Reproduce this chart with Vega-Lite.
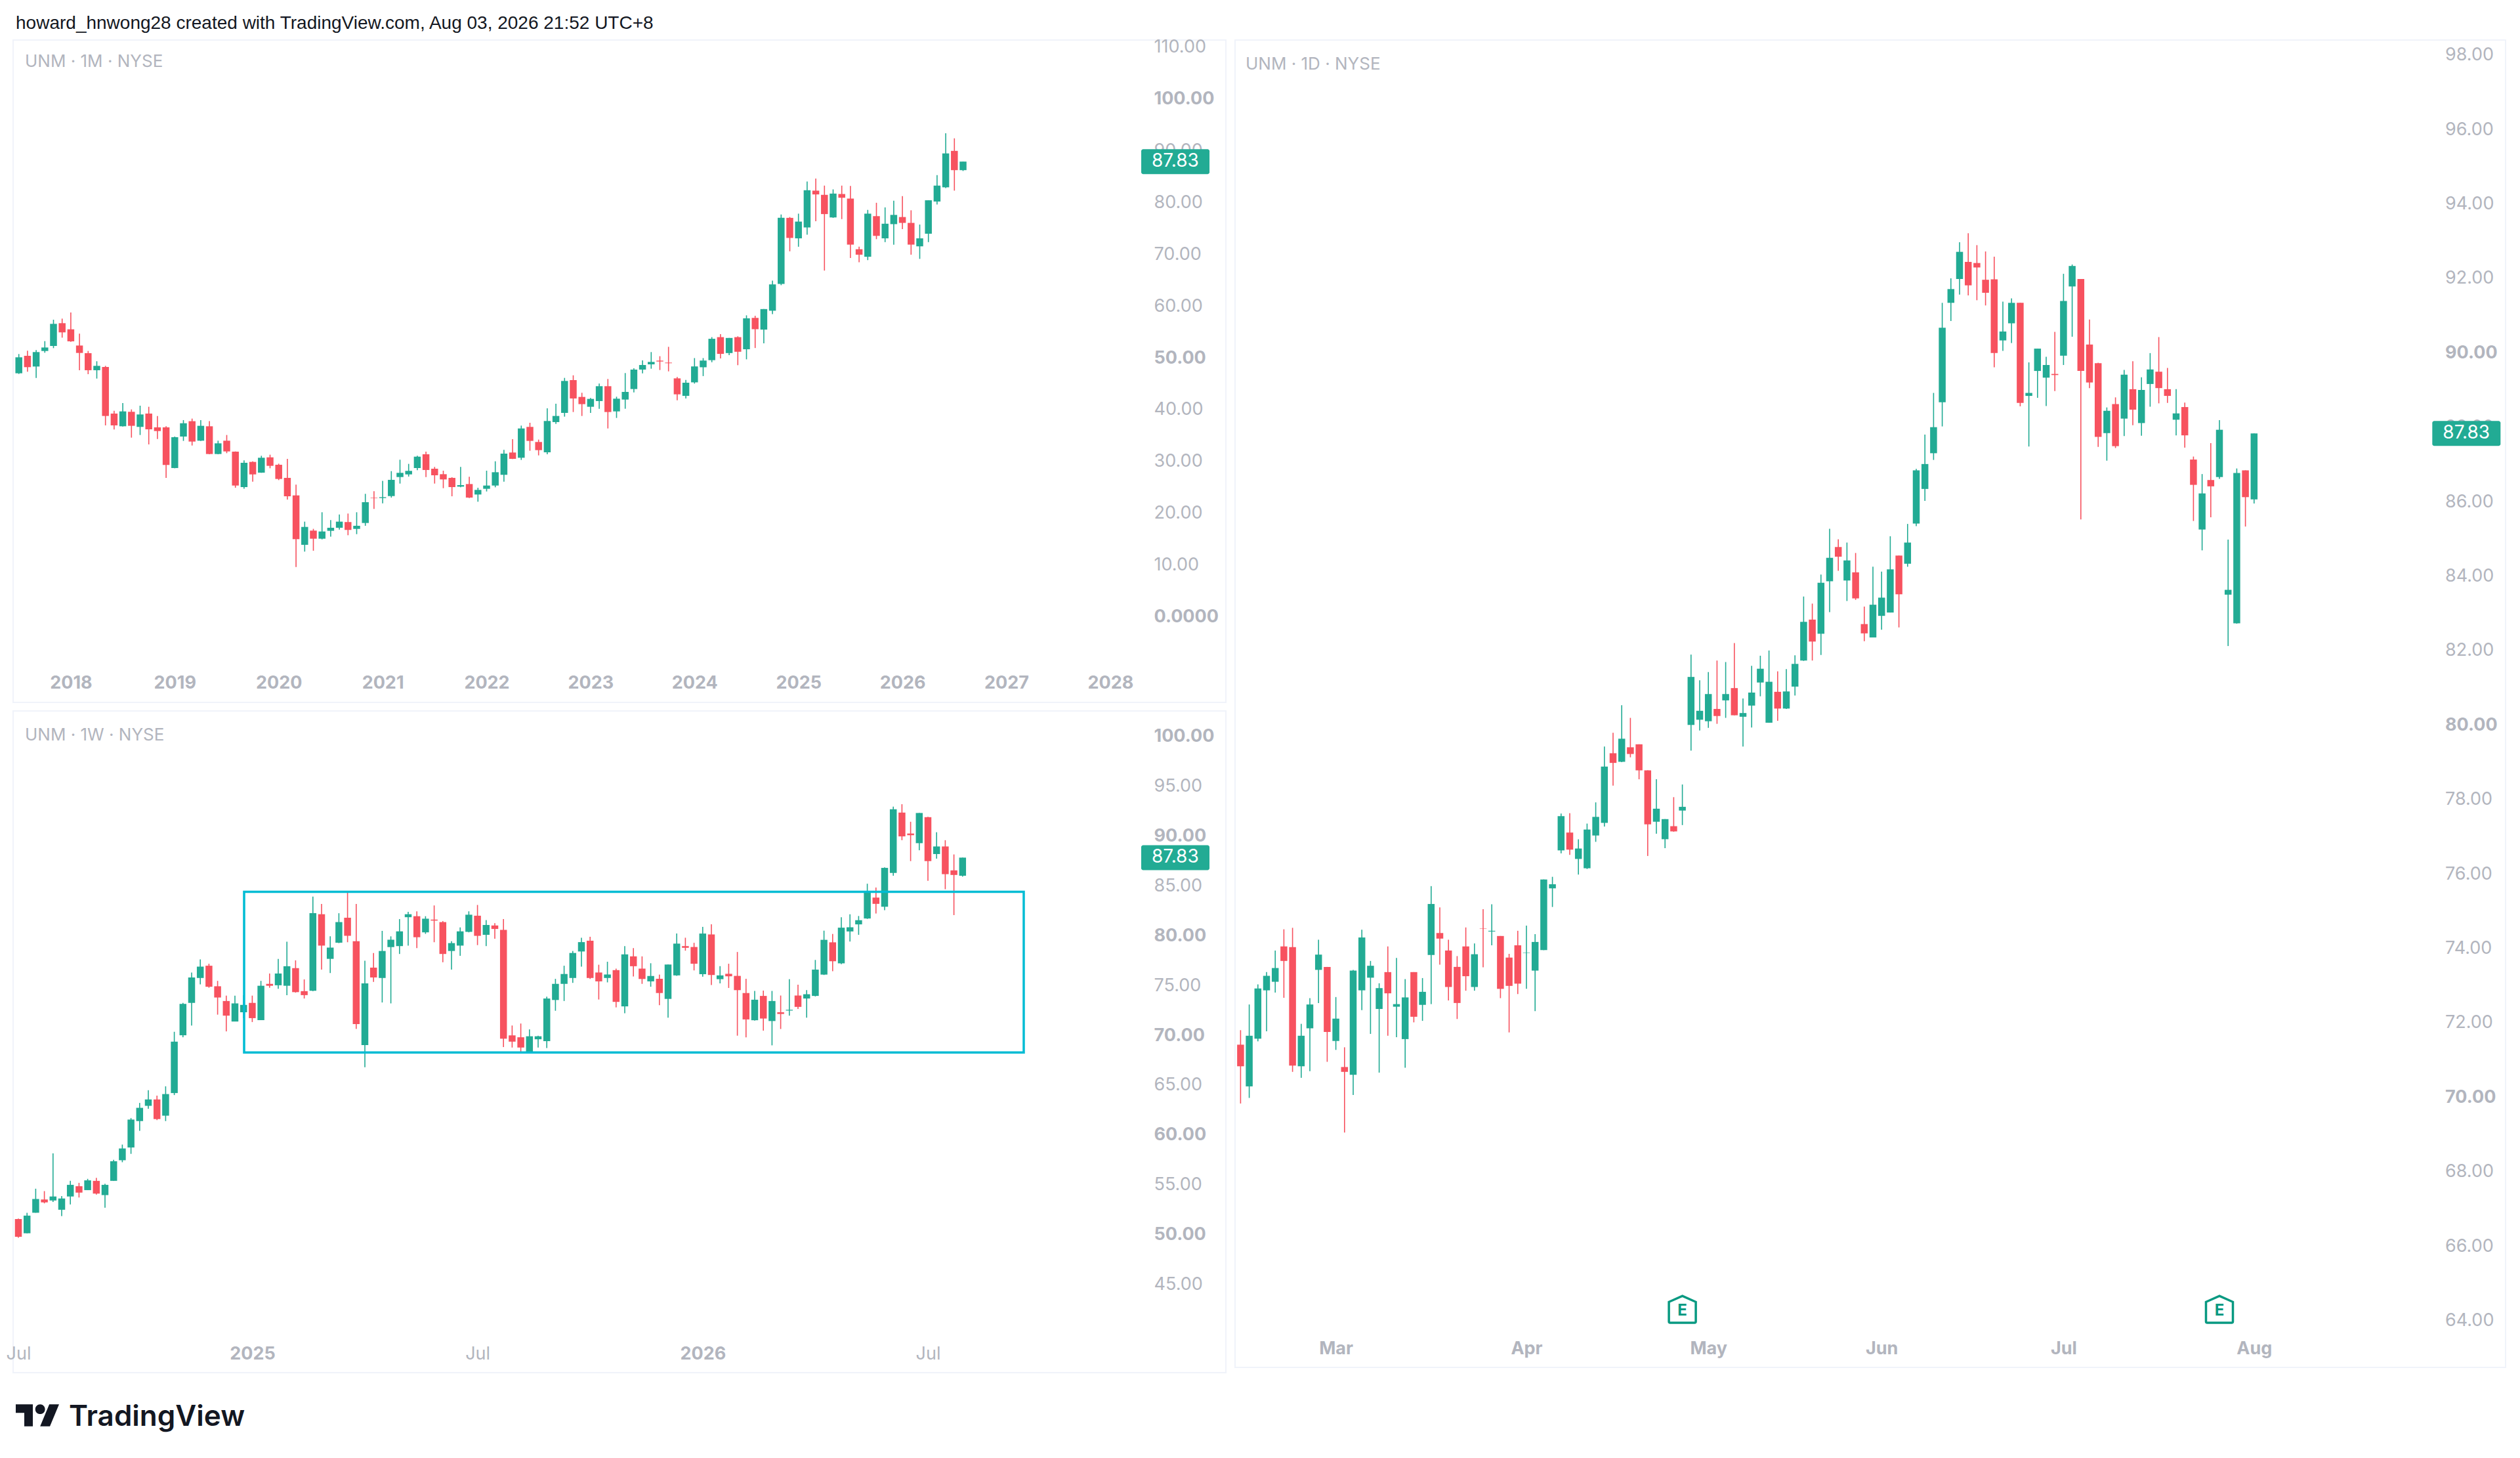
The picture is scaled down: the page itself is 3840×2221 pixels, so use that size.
{
  "$schema": "https://vega.github.io/schema/vega-lite/v6.json",
  "description": "UNM monthly, weekly and daily candlestick panels",
  "background": "#ffffff",
  "padding": {"left": 8, "top": 22, "right": 0, "bottom": 0},
  "title": {"text": "howard_hnwong28 created with TradingView.com, Aug 03, 2026 21:52 UTC+8", "anchor": "start", "frame": "bounds", "dx": 16, "font": "Liberation Sans", "fontSize": 28, "fontWeight": "normal", "color": "#131722", "offset": 6},
  "config": {"view": {"stroke": "#f0f3fa", "strokeWidth": 2}, "font": "Inter"},
  "datasets": {
    "monthly": [
      {"i":0,"o":47.01,"h":50.72,"l":46.88,"c":50.09},{"i":1,"o":50.38,"h":51.35,"l":47.30,"c":48.19},{"i":2,"o":48.31,"h":51.48,"l":46.12,"c":51.10},{"i":3,"o":51.31,"h":53.21,"l":50.97,"c":51.98},{"i":4,"o":52.28,"h":57.34,"l":51.86,"c":56.54},{"i":5,"o":56.67,"h":57.55,"l":53.88,"c":54.90},{"i":6,"o":55.49,"h":58.74,"l":53.08,"c":53.17},{"i":7,"o":52.36,"h":54.64,"l":47.60,"c":50.93},{"i":8,"o":50.89,"h":51.31,"l":46.84,"c":47.60},{"i":9,"o":47.60,"h":49.33,"l":45.99,"c":48.44},
      {"i":10,"o":48.23,"h":48.44,"l":36.96,"c":38.78},{"i":11,"o":39.24,"h":39.79,"l":36.16,"c":36.96},{"i":12,"o":36.79,"h":41.27,"l":36.75,"c":39.66},{"i":13,"o":39.58,"h":40.04,"l":34.60,"c":36.88},{"i":14,"o":36.67,"h":40.76,"l":35.11,"c":39.07},{"i":15,"o":39.24,"h":40.55,"l":33.29,"c":36.20},{"i":16,"o":36.58,"h":38.78,"l":34.35,"c":35.87},{"i":17,"o":36.58,"h":36.79,"l":26.84,"c":29.33},{"i":18,"o":28.74,"h":34.81,"l":28.69,"c":34.68},{"i":19,"o":34.81,"h":37.98,"l":33.97,"c":37.38},
      {"i":20,"o":37.77,"h":38.27,"l":33.08,"c":33.84},{"i":21,"o":34.01,"h":37.98,"l":33.97,"c":36.88},{"i":22,"o":36.79,"h":37.77,"l":31.39,"c":31.44},{"i":23,"o":31.44,"h":34.01,"l":31.39,"c":33.50},{"i":24,"o":34.01,"h":35.11,"l":31.60,"c":31.94},{"i":25,"o":31.90,"h":31.94,"l":24.94,"c":25.36},{"i":26,"o":25.06,"h":30.21,"l":24.73,"c":29.75},{"i":27,"o":29.92,"h":30.04,"l":26.12,"c":27.51},{"i":28,"o":27.85,"h":31.10,"l":27.81,"c":30.72},{"i":29,"o":30.80,"h":31.31,"l":28.69,"c":29.16},
      {"i":30,"o":29.37,"h":29.58,"l":26.41,"c":26.63},{"i":31,"o":26.84,"h":30.51,"l":22.66,"c":23.29},{"i":32,"o":23.46,"h":25.53,"l":9.66,"c":15.02},{"i":33,"o":13.93,"h":18.40,"l":12.62,"c":17.38},{"i":34,"o":16.67,"h":17.01,"l":12.79,"c":15.11},{"i":35,"o":15.11,"h":20.21,"l":14.98,"c":16.50},{"i":36,"o":16.63,"h":18.69,"l":15.49,"c":17.22},{"i":37,"o":17.22,"h":19.79,"l":16.88,"c":18.40},{"i":38,"o":18.31,"h":19.96,"l":15.78,"c":16.79},{"i":39,"o":17.00,"h":20.21,"l":15.99,"c":17.60},
      {"i":40,"o":18.14,"h":23.76,"l":17.60,"c":22.15},{"i":41,"o":23.04,"h":24.26,"l":20.84,"c":22.95},{"i":42,"o":22.95,"h":26.25,"l":21.94,"c":23.12},{"i":43,"o":23.33,"h":28.14,"l":23.04,"c":26.46},{"i":44,"o":27.00,"h":30.34,"l":25.74,"c":27.81},{"i":45,"o":27.51,"h":29.54,"l":27.09,"c":28.19},{"i":46,"o":28.73,"h":31.10,"l":28.31,"c":30.93},{"i":47,"o":31.39,"h":31.90,"l":27.00,"c":28.36},{"i":48,"o":28.61,"h":28.95,"l":25.74,"c":27.34},{"i":49,"o":27.55,"h":28.23,"l":24.85,"c":26.54},
      {"i":50,"o":26.84,"h":26.96,"l":23.29,"c":25.06},{"i":51,"o":25.15,"h":28.95,"l":25.02,"c":25.44},{"i":52,"o":25.65,"h":27.05,"l":22.95,"c":23.04},{"i":53,"o":23.63,"h":24.94,"l":22.24,"c":24.52},{"i":54,"o":24.73,"h":28.23,"l":24.22,"c":25.36},{"i":55,"o":25.36,"h":30.04,"l":25.02,"c":27.93},{"i":56,"o":27.43,"h":32.24,"l":26.12,"c":31.52},{"i":57,"o":31.73,"h":34.30,"l":30.46,"c":30.51},{"i":58,"o":30.72,"h":36.92,"l":30.30,"c":36.37},{"i":59,"o":36.67,"h":37.47,"l":32.07,"c":33.97},
      {"i":60,"o":33.76,"h":34.22,"l":31.18,"c":32.19},{"i":61,"o":31.77,"h":40.25,"l":31.39,"c":37.81},{"i":62,"o":37.60,"h":41.14,"l":37.26,"c":38.78},{"i":63,"o":39.37,"h":46.12,"l":38.65,"c":45.53},{"i":64,"o":45.70,"h":46.62,"l":39.54,"c":42.15},{"i":65,"o":42.45,"h":43.25,"l":38.78,"c":41.06},{"i":66,"o":40.55,"h":42.24,"l":39.37,"c":42.07},{"i":67,"o":41.65,"h":45.02,"l":40.17,"c":44.52},{"i":68,"o":44.52,"h":45.91,"l":36.37,"c":39.54},{"i":69,"o":39.66,"h":42.49,"l":38.40,"c":42.11},
      {"i":70,"o":41.94,"h":47.05,"l":40.17,"c":43.42},{"i":71,"o":43.97,"h":47.98,"l":43.33,"c":47.72},{"i":72,"o":47.72,"h":49.49,"l":47.00,"c":48.61},{"i":73,"o":48.73,"h":51.10,"l":47.89,"c":49.20},{"i":74,"o":49.45,"h":50.30,"l":47.64,"c":49.28},{"i":75,"o":49.07,"h":52.11,"l":47.38,"c":48.95},{"i":76,"o":46.03,"h":46.29,"l":41.81,"c":42.95},{"i":77,"o":42.66,"h":45.74,"l":42.15,"c":45.19},{"i":78,"o":45.26,"h":49.94,"l":45.02,"c":48.33},{"i":79,"o":48.17,"h":49.94,"l":46.47,"c":49.46},
      {"i":80,"o":49.54,"h":53.98,"l":49.14,"c":53.66},{"i":81,"o":53.98,"h":54.55,"l":49.86,"c":50.75},{"i":82,"o":50.91,"h":53.82,"l":50.51,"c":53.82},{"i":83,"o":53.98,"h":54.14,"l":48.57,"c":51.16},{"i":84,"o":51.64,"h":58.18,"l":49.70,"c":57.61},{"i":85,"o":57.69,"h":58.10,"l":51.88,"c":55.51},{"i":86,"o":55.43,"h":59.39,"l":52.77,"c":59.39},{"i":87,"o":59.07,"h":64.88,"l":58.42,"c":64.15},{"i":88,"o":64.23,"h":77.63,"l":64.00,"c":76.98},{"i":89,"o":76.98,"h":77.14,"l":70.53,"c":73.11},
      {"i":90,"o":73.03,"h":77.79,"l":71.41,"c":76.26},{"i":91,"o":75.13,"h":84.00,"l":73.75,"c":82.31},{"i":92,"o":82.23,"h":84.57,"l":76.34,"c":81.50},{"i":93,"o":81.42,"h":83.20,"l":66.81,"c":77.71},{"i":94,"o":77.06,"h":82.47,"l":76.98,"c":81.66},{"i":95,"o":81.58,"h":83.20,"l":76.74,"c":80.86},{"i":96,"o":80.70,"h":83.12,"l":69.23,"c":71.82},{"i":97,"o":70.93,"h":71.41,"l":68.43,"c":69.88},{"i":98,"o":69.48,"h":78.52,"l":68.83,"c":77.79},{"i":99,"o":77.31,"h":79.89,"l":72.87,"c":73.51},
      {"i":100,"o":73.03,"h":79.00,"l":72.30,"c":75.85},{"i":101,"o":75.77,"h":80.29,"l":71.82,"c":77.55},{"i":102,"o":77.14,"h":81.18,"l":74.80,"c":76.01},{"i":103,"o":76.01,"h":78.44,"l":69.88,"c":71.82},{"i":104,"o":71.49,"h":75.69,"l":69.07,"c":73.03},{"i":105,"o":73.92,"h":80.37,"l":72.30,"c":80.37},{"i":106,"o":80.13,"h":85.22,"l":79.57,"c":83.20},{"i":107,"o":82.87,"h":93.29,"l":82.71,"c":89.41},{"i":108,"o":89.90,"h":92.32,"l":82.23,"c":86.18},{"i":109,"o":86.18,"h":87.83,"l":86.02,"c":87.83}
    ],
    "weekly": [
      {"i":0,"o":51.55,"h":51.60,"l":49.68,"c":49.78},{"i":1,"o":50.13,"h":52.19,"l":50.13,"c":51.90},{"i":2,"o":52.19,"h":54.60,"l":52.19,"c":53.57},{"i":3,"o":53.52,"h":54.36,"l":53.13,"c":53.23},{"i":4,"o":53.42,"h":58.15,"l":53.27,"c":53.82},{"i":5,"o":52.49,"h":53.87,"l":51.85,"c":53.62},{"i":6,"o":53.82,"h":55.39,"l":53.03,"c":54.99},{"i":7,"o":54.85,"h":55.19,"l":53.72,"c":54.21},{"i":8,"o":54.46,"h":55.59,"l":54.46,"c":55.44},{"i":9,"o":55.39,"h":55.69,"l":54.01,"c":54.11},
      {"i":10,"o":53.96,"h":55.09,"l":52.69,"c":54.99},{"i":11,"o":55.39,"h":57.51,"l":55.39,"c":57.36},{"i":12,"o":57.46,"h":59.03,"l":57.26,"c":58.64},{"i":13,"o":58.74,"h":61.69,"l":58.10,"c":61.54},{"i":14,"o":61.39,"h":63.21,"l":60.41,"c":62.72},{"i":15,"o":62.92,"h":64.49,"l":62.62,"c":63.56},{"i":16,"o":63.56,"h":63.95,"l":61.49,"c":61.59},{"i":17,"o":61.93,"h":64.88,"l":61.39,"c":64.10},{"i":18,"o":64.20,"h":70.35,"l":64.00,"c":69.36},{"i":19,"o":70.00,"h":73.25,"l":69.80,"c":73.15},
      {"i":20,"o":73.25,"h":76.30,"l":70.98,"c":75.80},{"i":21,"o":75.75,"h":77.62,"l":75.11,"c":76.89},{"i":22,"o":76.98,"h":77.18,"l":74.77,"c":74.87},{"i":23,"o":74.92,"h":75.46,"l":72.07,"c":73.79},{"i":24,"o":73.44,"h":73.98,"l":70.39,"c":71.97},{"i":25,"o":71.38,"h":73.98,"l":71.38,"c":73.20},{"i":26,"o":72.31,"h":74.03,"l":71.72,"c":73.05},{"i":27,"o":73.25,"h":73.98,"l":71.33,"c":71.72},{"i":28,"o":71.52,"h":75.46,"l":71.52,"c":74.97},{"i":29,"o":75.16,"h":76.20,"l":74.77,"c":74.97},
      {"i":30,"o":75.02,"h":77.67,"l":74.67,"c":76.20},{"i":31,"o":74.97,"h":79.39,"l":74.03,"c":76.93},{"i":32,"o":76.74,"h":77.52,"l":74.28,"c":74.33},{"i":33,"o":74.43,"h":75.61,"l":73.69,"c":74.03},{"i":34,"o":74.47,"h":83.92,"l":74.43,"c":82.25},{"i":35,"o":82.15,"h":83.18,"l":76.59,"c":79.00},{"i":36,"o":77.67,"h":79.93,"l":76.25,"c":78.80},{"i":37,"o":79.29,"h":82.25,"l":79.25,"c":81.36},{"i":38,"o":81.80,"h":84.41,"l":79.34,"c":79.98},{"i":39,"o":79.44,"h":83.18,"l":70.64,"c":71.13},
      {"i":40,"o":69.01,"h":77.48,"l":66.80,"c":75.21},{"i":41,"o":76.79,"h":78.26,"l":75.36,"c":75.80},{"i":42,"o":75.75,"h":80.48,"l":73.29,"c":78.46},{"i":43,"o":78.85,"h":79.93,"l":73.20,"c":79.59},{"i":44,"o":78.95,"h":81.66,"l":78.16,"c":80.43},{"i":45,"o":81.85,"h":82.39,"l":79.00,"c":82.15},{"i":46,"o":81.95,"h":82.44,"l":78.75,"c":79.84},{"i":47,"o":80.33,"h":81.95,"l":80.18,"c":81.70},{"i":48,"o":81.61,"h":83.03,"l":79.34,"c":81.51},{"i":49,"o":81.36,"h":81.46,"l":77.33,"c":78.16},
      {"i":50,"o":78.46,"h":79.44,"l":76.59,"c":79.25},{"i":51,"o":79.00,"h":80.82,"l":77.97,"c":80.43},{"i":52,"o":80.38,"h":82.44,"l":80.33,"c":82.10},{"i":53,"o":82.00,"h":83.08,"l":79.05,"c":79.98},{"i":54,"o":80.08,"h":81.56,"l":78.95,"c":81.07},{"i":55,"o":81.02,"h":81.26,"l":79.69,"c":80.67},{"i":56,"o":80.57,"h":81.66,"l":68.82,"c":69.65},{"i":57,"o":69.99,"h":70.98,"l":68.77,"c":69.36},{"i":58,"o":69.80,"h":71.18,"l":68.28,"c":68.77},{"i":59,"o":68.28,"h":70.59,"l":68.23,"c":69.90},
      {"i":60,"o":69.60,"h":69.95,"l":68.77,"c":69.90},{"i":61,"o":69.41,"h":73.88,"l":68.72,"c":73.69},{"i":62,"o":73.54,"h":75.66,"l":72.46,"c":75.16},{"i":63,"o":75.16,"h":76.98,"l":73.44,"c":76.15},{"i":64,"o":75.75,"h":78.46,"l":75.26,"c":78.26},{"i":65,"o":78.41,"h":79.79,"l":76.89,"c":79.35},{"i":66,"o":79.49,"h":79.89,"l":75.65,"c":75.75},{"i":67,"o":76.30,"h":77.08,"l":73.59,"c":75.41},{"i":68,"o":75.75,"h":77.38,"l":75.31,"c":76.10},{"i":69,"o":76.54,"h":76.69,"l":72.80,"c":73.35},
      {"i":70,"o":72.90,"h":78.95,"l":72.21,"c":78.12},{"i":71,"o":77.92,"h":78.75,"l":75.90,"c":76.93},{"i":72,"o":76.69,"h":77.92,"l":75.16,"c":75.65},{"i":73,"o":75.41,"h":77.23,"l":74.87,"c":75.95},{"i":74,"o":75.67,"h":76.09,"l":73.02,"c":74.24},{"i":75,"o":73.65,"h":77.10,"l":71.76,"c":77.10},{"i":76,"o":76.01,"h":80.21,"l":75.97,"c":79.20},{"i":77,"o":78.95,"h":79.79,"l":78.49,"c":78.78},{"i":78,"o":78.86,"h":79.28,"l":76.51,"c":77.18},{"i":79,"o":76.13,"h":80.88,"l":75.88,"c":80.21},
      {"i":80,"o":80.12,"h":81.13,"l":75.04,"c":76.05},{"i":81,"o":75.63,"h":76.93,"l":75.21,"c":76.01},{"i":82,"o":76.17,"h":77.18,"l":74.75,"c":75.92},{"i":83,"o":75.96,"h":78.36,"l":69.96,"c":74.53},{"i":84,"o":74.24,"h":75.67,"l":69.79,"c":71.59},{"i":85,"o":71.51,"h":74.45,"l":71.47,"c":73.57},{"i":86,"o":73.95,"h":74.49,"l":70.46,"c":71.68},{"i":87,"o":71.43,"h":74.45,"l":68.99,"c":73.44},{"i":88,"o":72.31,"h":73.99,"l":70.63,"c":72.14},{"i":89,"o":72.48,"h":75.63,"l":71.97,"c":72.56},
      {"i":90,"o":73.99,"h":75.08,"l":72.64,"c":72.85},{"i":91,"o":73.69,"h":74.53,"l":71.76,"c":74.12},{"i":92,"o":73.95,"h":77.56,"l":73.90,"c":76.59},{"i":93,"o":76.09,"h":80.50,"l":76.05,"c":79.58},{"i":94,"o":79.33,"h":80.17,"l":76.43,"c":77.43},{"i":95,"o":77.22,"h":81.85,"l":77.14,"c":80.80},{"i":96,"o":80.42,"h":82.14,"l":79.41,"c":80.84},{"i":97,"o":81.13,"h":81.97,"l":80.08,"c":81.55},{"i":98,"o":81.72,"h":85.21,"l":81.68,"c":84.45},{"i":99,"o":83.82,"h":84.83,"l":82.22,"c":83.19},
      {"i":100,"o":82.90,"h":86.85,"l":82.56,"c":86.80},{"i":101,"o":86.30,"h":92.94,"l":86.01,"c":92.69},{"i":102,"o":92.35,"h":93.19,"l":89.58,"c":89.96},{"i":103,"o":90.25,"h":91.43,"l":87.48,"c":90.08},{"i":104,"o":89.28,"h":92.31,"l":88.57,"c":92.31},{"i":105,"o":91.89,"h":91.93,"l":85.50,"c":87.48},{"i":106,"o":88.19,"h":90.38,"l":87.73,"c":88.95},{"i":107,"o":88.95,"h":89.58,"l":84.66,"c":86.17},{"i":108,"o":86.55,"h":88.15,"l":82.06,"c":86.09},{"i":109,"o":86.01,"h":87.83,"l":85.92,"c":87.83}
    ],
    "daily": [
      {"i":0,"o":71.41,"h":71.80,"l":69.83,"c":70.83},{"i":1,"o":70.29,"h":72.49,"l":69.98,"c":71.65},{"i":2,"o":71.57,"h":73.03,"l":71.50,"c":72.92},{"i":3,"o":72.87,"h":73.36,"l":71.77,"c":73.26},{"i":4,"o":73.10,"h":73.94,"l":72.81,"c":73.47},{"i":5,"o":74.05,"h":74.51,"l":72.67,"c":73.66},{"i":6,"o":74.03,"h":74.55,"l":70.68,"c":70.85},{"i":7,"o":70.83,"h":71.97,"l":70.52,"c":71.65},{"i":8,"o":71.85,"h":72.66,"l":70.70,"c":72.49},{"i":9,"o":73.42,"h":74.23,"l":72.53,"c":73.83},
      {"i":10,"o":73.50,"h":73.50,"l":70.95,"c":71.75},{"i":11,"o":71.51,"h":72.69,"l":71.27,"c":72.11},{"i":12,"o":70.81,"h":71.34,"l":69.05,"c":70.68},{"i":13,"o":70.60,"h":73.42,"l":70.06,"c":73.40},{"i":14,"o":72.87,"h":74.50,"l":72.34,"c":74.29},{"i":15,"o":73.21,"h":73.66,"l":71.70,"c":73.53},{"i":16,"o":72.37,"h":73.06,"l":70.66,"c":72.93},{"i":17,"o":73.36,"h":74.05,"l":71.65,"c":72.79},{"i":18,"o":72.43,"h":73.74,"l":71.61,"c":72.50},{"i":19,"o":71.56,"h":73.17,"l":70.79,"c":72.68},
      {"i":20,"o":73.36,"h":73.36,"l":72.01,"c":72.16},{"i":21,"o":72.48,"h":73.20,"l":72.05,"c":72.83},{"i":22,"o":73.82,"h":75.67,"l":72.50,"c":75.19},{"i":23,"o":74.41,"h":75.10,"l":73.56,"c":74.26},{"i":24,"o":73.94,"h":74.23,"l":72.60,"c":72.96},{"i":25,"o":73.50,"h":73.79,"l":72.10,"c":72.53},{"i":26,"o":74.05,"h":74.56,"l":72.86,"c":73.25},{"i":27,"o":72.96,"h":74.13,"l":72.86,"c":73.84},{"i":28,"o":74.53,"h":75.05,"l":73.49,"c":74.52},{"i":29,"o":74.45,"h":75.18,"l":74.08,"c":74.47},
      {"i":30,"o":74.33,"h":74.33,"l":72.66,"c":72.91},{"i":31,"o":73.75,"h":73.85,"l":71.74,"c":72.99},{"i":32,"o":74.08,"h":74.47,"l":72.77,"c":73.05},{"i":33,"o":73.87,"h":74.61,"l":72.91,"c":73.88},{"i":34,"o":73.40,"h":74.38,"l":72.31,"c":74.17},{"i":35,"o":73.95,"h":75.85,"l":73.95,"c":75.85},{"i":36,"o":75.61,"h":75.92,"l":75.11,"c":75.72},{"i":37,"o":76.63,"h":77.62,"l":76.55,"c":77.55},{"i":38,"o":77.11,"h":77.63,"l":76.51,"c":76.65},{"i":39,"o":76.40,"h":76.93,"l":75.98,"c":76.68},
      {"i":40,"o":76.15,"h":77.35,"l":76.13,"c":77.19},{"i":41,"o":77.03,"h":77.92,"l":76.86,"c":77.53},{"i":42,"o":77.37,"h":79.42,"l":77.27,"c":78.88},{"i":43,"o":79.24,"h":79.79,"l":78.37,"c":78.98},{"i":44,"o":79.01,"h":80.53,"l":79.00,"c":79.63},{"i":45,"o":79.40,"h":80.19,"l":79.13,"c":79.22},{"i":46,"o":79.48,"h":79.48,"l":78.54,"c":78.78},{"i":47,"o":78.78,"h":78.78,"l":76.48,"c":77.33},{"i":48,"o":77.40,"h":78.54,"l":77.08,"c":77.75},{"i":49,"o":76.93,"h":77.47,"l":76.69,"c":77.47},
      {"i":50,"o":77.28,"h":78.06,"l":77.13,"c":77.14},{"i":51,"o":77.70,"h":78.40,"l":77.31,"c":77.80},{"i":52,"o":80.00,"h":81.89,"l":79.31,"c":81.29},{"i":53,"o":80.14,"h":81.20,"l":79.85,"c":80.38},{"i":54,"o":80.10,"h":81.42,"l":79.92,"c":80.83},{"i":55,"o":80.43,"h":81.73,"l":80.03,"c":80.24},{"i":56,"o":80.66,"h":81.69,"l":80.19,"c":80.83},{"i":57,"o":80.99,"h":82.20,"l":80.26,"c":80.26},{"i":58,"o":80.22,"h":80.71,"l":79.42,"c":80.32},{"i":59,"o":80.52,"h":81.59,"l":79.93,"c":80.87},
      {"i":60,"o":81.14,"h":81.86,"l":80.77,"c":81.51},{"i":61,"o":80.06,"h":82.00,"l":80.06,"c":81.16},{"i":62,"o":80.89,"h":81.44,"l":80.11,"c":80.44},{"i":63,"o":80.44,"h":81.50,"l":80.43,"c":80.90},{"i":64,"o":81.03,"h":81.87,"l":80.79,"c":81.64},{"i":65,"o":81.73,"h":83.45,"l":81.72,"c":82.77},{"i":66,"o":82.83,"h":83.26,"l":81.73,"c":82.24},{"i":67,"o":82.45,"h":84.04,"l":81.88,"c":83.82},{"i":68,"o":83.86,"h":85.27,"l":83.03,"c":84.49},{"i":69,"o":84.78,"h":84.99,"l":84.14,"c":84.52},
      {"i":70,"o":83.88,"h":84.90,"l":83.33,"c":84.42},{"i":71,"o":84.10,"h":84.62,"l":83.36,"c":83.40},{"i":72,"o":82.71,"h":83.18,"l":82.25,"c":82.46},{"i":73,"o":82.35,"h":84.25,"l":82.35,"c":83.23},{"i":74,"o":82.93,"h":84.12,"l":82.56,"c":83.42},{"i":75,"o":83.02,"h":85.07,"l":83.02,"c":84.18},{"i":76,"o":84.55,"h":84.55,"l":82.62,"c":83.51},{"i":77,"o":84.33,"h":85.40,"l":84.25,"c":84.90},{"i":78,"o":85.41,"h":86.88,"l":85.34,"c":86.84},{"i":79,"o":86.34,"h":87.80,"l":86.02,"c":87.01},
      {"i":80,"o":87.30,"h":88.92,"l":87.12,"c":88.00},{"i":81,"o":88.67,"h":91.34,"l":88.02,"c":90.67},{"i":82,"o":91.34,"h":92.00,"l":90.85,"c":91.71},{"i":83,"o":91.98,"h":92.97,"l":91.56,"c":92.71},{"i":84,"o":92.44,"h":93.21,"l":91.54,"c":91.81},{"i":85,"o":92.41,"h":92.89,"l":91.41,"c":92.29},{"i":86,"o":91.96,"h":92.72,"l":91.27,"c":91.61},{"i":87,"o":91.97,"h":92.58,"l":89.61,"c":89.99},{"i":88,"o":90.33,"h":91.37,"l":90.05,"c":90.57},{"i":89,"o":90.79,"h":91.46,"l":90.26,"c":91.34},
      {"i":90,"o":91.34,"h":91.34,"l":88.56,"c":88.65},{"i":91,"o":88.84,"h":89.74,"l":87.48,"c":88.92},{"i":92,"o":89.51,"h":90.11,"l":88.79,"c":90.11},{"i":93,"o":89.33,"h":89.89,"l":88.57,"c":89.67},{"i":94,"o":89.43,"h":90.56,"l":88.97,"c":89.40},{"i":95,"o":89.92,"h":92.12,"l":89.67,"c":91.39},{"i":96,"o":91.78,"h":92.37,"l":90.43,"c":92.33},{"i":97,"o":91.98,"h":91.98,"l":85.52,"c":89.51},{"i":98,"o":90.22,"h":90.89,"l":89.05,"c":89.20},{"i":99,"o":89.72,"h":89.73,"l":87.47,"c":87.74},
      {"i":100,"o":87.84,"h":88.53,"l":87.10,"c":88.44},{"i":101,"o":88.62,"h":88.80,"l":87.44,"c":87.49},{"i":102,"o":88.23,"h":89.54,"l":87.76,"c":89.41},{"i":103,"o":89.02,"h":89.77,"l":88.05,"c":88.47},{"i":104,"o":88.11,"h":89.34,"l":87.77,"c":89.00},{"i":105,"o":89.16,"h":89.99,"l":88.55,"c":89.55},{"i":106,"o":89.49,"h":90.42,"l":88.64,"c":89.05},{"i":107,"o":89.02,"h":89.59,"l":88.65,"c":88.84},{"i":108,"o":88.20,"h":89.02,"l":87.78,"c":88.37},{"i":109,"o":88.54,"h":88.66,"l":87.45,"c":87.78},
      {"i":110,"o":87.13,"h":87.21,"l":85.48,"c":86.45},{"i":111,"o":85.25,"h":86.74,"l":84.69,"c":86.22},{"i":112,"o":86.58,"h":87.57,"l":85.58,"c":86.41},{"i":113,"o":86.66,"h":88.19,"l":86.61,"c":87.93},{"i":114,"o":83.50,"h":84.98,"l":82.12,"c":83.63},{"i":115,"o":82.73,"h":86.89,"l":82.72,"c":86.77},{"i":116,"o":86.84,"h":86.84,"l":85.33,"c":86.12},{"i":117,"o":86.06,"h":87.83,"l":85.95,"c":87.83}
    ]
  },
  "vconcat": [
    {
      "spacing": 12,
      "hconcat": [
        {
          "spacing": 11,
          "vconcat": [
            {
              "width": 1848,
              "height": 1009,
              "title": {"text": "UNM · 1M · NYSE", "anchor": "start", "frame": "group", "dx": 18, "offset": -50, "font": "Inter", "fontSize": 26, "fontWeight": "normal", "color": "#b2b5be"},
              "layer": [
                {
                  "data": {"name": "monthly"},
                  "mark": {"type": "rule", "strokeWidth": 1.6},
                  "encoding": {
                    "x": {"field": "i", "type": "quantitative", "scale": {"domain": [-0.659, 139.341], "nice": false, "zero": false, "padding": 0}, "axis": {"title": null, "values": [6, 18, 30, 42, 54, 66, 78, 90, 102, 114, 126], "labelExpr": "2018 + (datum.value - 6) / 12", "orient": "bottom", "offset": -30, "domain": false, "ticks": false, "grid": false, "labelPadding": 0, "labelBaseline": "middle", "labelAlign": "center", "labelFont": "Inter", "labelFontSize": 27, "labelFontWeight": "bold", "labelColor": "#b2b5be", "labelOverlap": false, "labelBound": false, "labelFlush": false}},
                    "y": {"field": "l", "type": "quantitative", "scale": {"domain": [-16.46, 111.27], "nice": false, "zero": false, "padding": 0}, "axis": {"title": null, "orient": "right", "values": [0, 10, 20, 30, 40, 50, 60, 70, 80, 90, 100, 110], "labelExpr": "datum.value == 0 ? '0.0000' : format(datum.value, '.2f')", "offset": -110, "domain": false, "ticks": false, "grid": false, "labelPadding": 0, "labelAlign": "left", "labelBaseline": "middle", "labelFont": "Inter", "labelFontSize": 27, "labelColor": "#b2b5be", "labelFontWeight": {"condition": {"test": "datum.value == 0 || datum.value == 50 || datum.value == 100", "value": "bold"}, "value": "normal"}, "labelOverlap": false, "labelBound": false, "labelFlush": false}},
                    "y2": {"field": "h"},
                    "color": {"condition": {"test": "datum.c >= datum.o", "value": "#22ab94"}, "value": "#f7525f"}
                  }
                },
                {
                  "data": {"name": "monthly"},
                  "mark": {"type": "bar", "size": 10.5},
                  "encoding": {
                    "x": {"field": "i", "type": "quantitative"},
                    "y": {"field": "o", "type": "quantitative"},
                    "y2": {"field": "c"},
                    "color": {"condition": {"test": "datum.c >= datum.o", "value": "#22ab94"}, "value": "#f7525f"}
                  }
                },
                {
                  "data": {"values": [{"last": 87.83}]},
                  "mark": {"type": "bar", "size": 38, "color": "#22ab94", "cornerRadius": 3},
                  "encoding": {
                    "x": {"datum": 129.57, "type": "quantitative"},
                    "x2": {"datum": 137.45},
                    "y": {"field": "last", "type": "quantitative"}
                  }
                },
                {
                  "data": {"values": [{"last": 87.83}]},
                  "mark": {"type": "text", "color": "#ffffff", "font": "Inter", "fontSize": 28, "align": "center", "baseline": "middle"},
                  "encoding": {
                    "x": {"datum": 133.5, "type": "quantitative"},
                    "y": {"field": "last", "type": "quantitative"},
                    "text": {"field": "last", "format": ".2f"}
                  }
                }
              ]
            },
            {
              "width": 1848,
              "height": 1008,
              "title": {"text": "UNM · 1W · NYSE", "anchor": "start", "frame": "group", "dx": 18, "offset": -50, "font": "Inter", "fontSize": 26, "fontWeight": "normal", "color": "#b2b5be"},
              "layer": [
                {
                  "data": {"name": "weekly"},
                  "mark": {"type": "rule", "strokeWidth": 1.6},
                  "encoding": {
                    "x": {"field": "i", "type": "quantitative", "scale": {"domain": [-0.606, 139.394], "nice": false, "zero": false, "padding": 0}, "axis": {"title": null, "values": [0, 27, 53, 79, 105], "labelExpr": "datum.value == 27 ? '2025' : datum.value == 79 ? '2026' : 'Jul'", "orient": "bottom", "offset": -29, "domain": false, "ticks": false, "grid": false, "labelPadding": 0, "labelBaseline": "middle", "labelAlign": "center", "labelFont": "Inter", "labelFontSize": 27, "labelFontWeight": {"condition": {"test": "datum.value == 27 || datum.value == 79", "value": "bold"}, "value": "normal"}, "labelColor": "#b2b5be", "labelOverlap": false, "labelBound": false, "labelFlush": false}},
                    "y": {"field": "l", "type": "quantitative", "scale": {"domain": [36.14, 102.55], "nice": false, "zero": false, "padding": 0}, "axis": {"title": null, "orient": "right", "values": [45, 50, 55, 60, 65, 70, 75, 80, 85, 90, 95, 100], "format": ".2f", "offset": -110, "domain": false, "ticks": false, "grid": false, "labelPadding": 0, "labelAlign": "left", "labelBaseline": "middle", "labelFont": "Inter", "labelFontSize": 27, "labelColor": "#b2b5be", "labelFontWeight": {"condition": {"test": "datum.value % 10 == 0", "value": "bold"}, "value": "normal"}, "labelOverlap": false, "labelBound": false, "labelFlush": false}},
                    "y2": {"field": "h"},
                    "color": {"condition": {"test": "datum.c >= datum.o", "value": "#22ab94"}, "value": "#f7525f"}
                  }
                },
                {
                  "data": {"name": "weekly"},
                  "mark": {"type": "bar", "size": 10.5},
                  "encoding": {
                    "x": {"field": "i", "type": "quantitative"},
                    "y": {"field": "o", "type": "quantitative"},
                    "y2": {"field": "c"},
                    "color": {"condition": {"test": "datum.c >= datum.o", "value": "#22ab94"}, "value": "#f7525f"}
                  }
                },
                {
                  "data": {"values": [{"start": 26.06, "end": 116.06, "low": 68.27, "high": 84.4}]},
                  "mark": {"type": "rect", "filled": false, "stroke": "#00bcd4", "strokeWidth": 3.5},
                  "encoding": {
                    "x": {"field": "start", "type": "quantitative"},
                    "x2": {"field": "end"},
                    "y": {"field": "low", "type": "quantitative"},
                    "y2": {"field": "high"}
                  }
                },
                {
                  "data": {"values": [{"last": 87.83}]},
                  "mark": {"type": "bar", "size": 38, "color": "#22ab94", "cornerRadius": 3},
                  "encoding": {
                    "x": {"datum": 129.62, "type": "quantitative"},
                    "x2": {"datum": 137.5},
                    "y": {"field": "last", "type": "quantitative"}
                  }
                },
                {
                  "data": {"values": [{"last": 87.83}]},
                  "mark": {"type": "text", "color": "#ffffff", "font": "Inter", "fontSize": 28, "align": "center", "baseline": "middle"},
                  "encoding": {
                    "x": {"datum": 133.55, "type": "quantitative"},
                    "y": {"field": "last", "type": "quantitative"},
                    "text": {"field": "last", "format": ".2f"}
                  }
                }
              ]
            }
          ]
        },
        {
          "width": 1936,
          "height": 2022,
          "title": {"text": "UNM · 1D · NYSE", "anchor": "start", "frame": "group", "dx": 16, "offset": -50, "font": "Inter", "fontSize": 26, "fontWeight": "normal", "color": "#b2b5be"},
          "layer": [
            {
              "data": {"name": "daily"},
              "mark": {"type": "rule", "strokeWidth": 1.6},
              "encoding": {
                "x": {"field": "i", "type": "quantitative", "scale": {"domain": [-0.636, 146.03], "nice": false, "zero": false, "padding": 0}, "axis": {"title": null, "values": [11, 33, 54, 74, 95, 117], "labelExpr": "['Mar', 'Apr', 'May', 'Jun', 'Jul', 'Aug'][indexof([11, 33, 54, 74, 95, 117], datum.value)]", "orient": "bottom", "offset": -29, "domain": false, "ticks": false, "grid": false, "labelPadding": 0, "labelBaseline": "middle", "labelAlign": "center", "labelFont": "Inter", "labelFontSize": 27, "labelFontWeight": "bold", "labelColor": "#b2b5be", "labelOverlap": false, "labelBound": false, "labelFlush": false}},
                "y": {"field": "l", "type": "quantitative", "scale": {"domain": [62.74, 98.4], "nice": false, "zero": false, "padding": 0}, "axis": {"title": null, "orient": "right", "values": [64, 66, 68, 70, 72, 74, 76, 78, 80, 82, 84, 86, 88, 90, 92, 94, 96, 98], "format": ".2f", "offset": -92.5, "domain": false, "ticks": false, "grid": false, "labelPadding": 0, "labelAlign": "left", "labelBaseline": "middle", "labelFont": "Inter", "labelFontSize": 27, "labelColor": "#b2b5be", "labelFontWeight": {"condition": {"test": "datum.value % 10 == 0", "value": "bold"}, "value": "normal"}, "labelOverlap": false, "labelBound": false, "labelFlush": false}},
                "y2": {"field": "h"},
                "color": {"condition": {"test": "datum.c >= datum.o", "value": "#22ab94"}, "value": "#f7525f"}
              }
            },
            {
              "data": {"name": "daily"},
              "mark": {"type": "bar", "size": 10.5},
              "encoding": {
                "x": {"field": "i", "type": "quantitative"},
                "y": {"field": "o", "type": "quantitative"},
                "y2": {"field": "c"},
                "color": {"condition": {"test": "datum.c >= datum.o", "value": "#22ab94"}, "value": "#f7525f"}
              }
            },
            {
              "data": {"values": [{"bar": 51, "level": 64.3, "note": "E"}, {"bar": 113, "level": 64.3, "note": "E"}]},
              "mark": {"type": "point", "shape": "M0 -1L1 -.55V.9Q1 1 .9 1H-.9Q-1 1 -1 .9V-.55Z", "size": 1681, "filled": false, "stroke": "#089981", "strokeWidth": 3.5, "opacity": 1},
              "encoding": {
                "x": {"field": "bar", "type": "quantitative"},
                "y": {"field": "level", "type": "quantitative"}
              }
            },
            {
              "data": {"values": [{"bar": 51, "level": 64.3, "note": "E"}, {"bar": 113, "level": 64.3, "note": "E"}]},
              "mark": {"type": "text", "font": "Inter", "fontSize": 24, "fontWeight": "bold", "color": "#089981", "align": "center", "baseline": "middle", "dy": 2},
              "encoding": {
                "x": {"field": "bar", "type": "quantitative"},
                "y": {"field": "level", "type": "quantitative"},
                "text": {"field": "note"}
              }
            },
            {
              "data": {"values": [{"last": 87.83}]},
              "mark": {"type": "bar", "size": 38, "color": "#22ab94", "cornerRadius": 3},
              "encoding": {
                "x": {"datum": 137.57, "type": "quantitative"},
                "x2": {"datum": 145.45},
                "y": {"field": "last", "type": "quantitative"}
              }
            },
            {
              "data": {"values": [{"last": 87.83}]},
              "mark": {"type": "text", "color": "#ffffff", "font": "Inter", "fontSize": 28, "align": "center", "baseline": "middle"},
              "encoding": {
                "x": {"datum": 141.5, "type": "quantitative"},
                "y": {"field": "last", "type": "quantitative"},
                "text": {"field": "last", "format": ".2f"}
              }
            }
          ]
        }
      ]
    },
    {
      "width": 400,
      "height": 45,
      "view": {"stroke": null},
      "data": {"values": [{"brand": "TradingView"}]},
      "layer": [
        {
          "mark": {"type": "point", "shape": "M-.211 .507H-.606V-.113H-1V-.507H-.211ZM.577 .507H.127L.549 -.507H1ZM-.098 -.282a.225 .225 0 1 0 .45 0a.225 .225 0 1 0 -.45 0Z", "size": 4356, "filled": true, "color": "#131722", "opacity": 1},
          "encoding": {
            "x": {"datum": 37, "type": "quantitative", "scale": {"domain": [0, 400], "nice": false, "padding": 0}, "axis": null},
            "y": {"datum": 16, "type": "quantitative", "scale": {"domain": [45, 0], "nice": false, "zero": false, "padding": 0}, "axis": null}
          }
        },
        {
          "mark": {"type": "text", "font": "Inter", "fontSize": 44, "fontWeight": 600, "color": "#131722", "align": "left", "baseline": "middle"},
          "encoding": {
            "x": {"datum": 85, "type": "quantitative"},
            "y": {"datum": 19, "type": "quantitative"},
            "text": {"field": "brand"}
          }
        }
      ]
    }
  ],
  "spacing": 45
}
